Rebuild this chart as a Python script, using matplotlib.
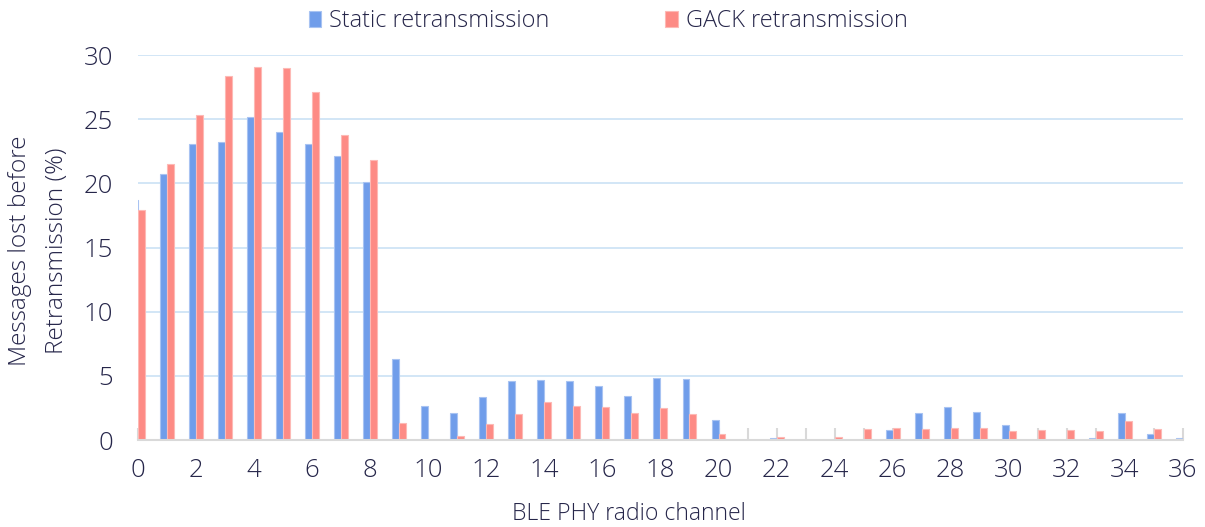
import matplotlib.pyplot as plt
import numpy as np

plt.rcParams['font.family'] = ['Open Sans', 'DejaVu Sans']
plt.rcParams['font.weight'] = 'light'

# Share of messages lost per BLE channel (%)
channels = list(range(37))
static_loss = [18.7, 20.7, 23.1, 23.2, 25.2, 24.0, 23.1, 22.1, 20.1, 6.3,
               2.65, 2.1, 3.35, 4.6, 4.7, 4.6, 4.2, 3.45, 4.85, 4.75,
               1.6, 0, 0.18, 0, 0, 0, 0.8, 2.1, 2.55, 2.15,
               1.15, 0, 0, 0.15, 2.1, 0.5, 0.15]
gack_loss = [17.9, 21.5, 25.3, 28.4, 29.1, 29.0, 27.1, 23.8, 21.8, 1.35,
             0, 0.3, 1.25, 2.0, 2.95, 2.65, 2.55, 2.1, 2.5, 2.05,
             0.45, 0, 0.22, 0, 0.25, 0.88, 0.9, 0.85, 0.95, 0.9,
             0.72, 0.78, 0.8, 0.72, 1.45, 0.88, 0.7]

text_col = '#26264a'
blue = '#709dea'
red = '#fd8b85'

fig = plt.figure(figsize=(12.05, 5.27), dpi=100)
ax = fig.add_axes([0.1145, 0.165, 0.8672, 0.7306])

x = np.array(channels)
w = 0.24
ax.bar(x - w / 2, static_loss, width=w, color=blue, edgecolor='#a8c3f2',
       linewidth=0.8, label='Static retransmission', zorder=2)
ax.bar(x + w / 2, gack_loss, width=w, color=red, edgecolor='#fdb9b5',
       linewidth=0.8, label='GACK retransmission', zorder=2)

ax.set_xlim(0, 36)
ax.set_ylim(0, 30)
ax.set_yticks(range(0, 31, 5))
ax.yaxis.grid(True, color='#cfe4f6', linewidth=1.3, zorder=0)
ax.set_axisbelow(True)

ax.set_xticks(channels)
ax.set_xticklabels([str(c) if c % 2 == 0 else '' for c in channels])
ax.tick_params(axis='x', direction='in', length=9, width=1.5,
               color='#d9d9d9', pad=13, labelsize=18.5, labelcolor=text_col)
ax.tick_params(axis='y', length=0, pad=18, labelsize=18.5, labelcolor=text_col)

for side in ['top', 'right', 'left']:
    ax.spines[side].set_visible(False)
ax.spines['bottom'].set_color('#d9d9d9')
ax.spines['bottom'].set_linewidth(1.5)

fig.text(0.032, 0.524, 'Messages lost before\nRetransmission (%)', rotation=90,
         ha='center', va='center', multialignment='center',
         fontsize=17.6, color=text_col, linespacing=1.75)
fig.text(0.522, 0.025, 'BLE PHY radio channel', ha='center', va='center',
         fontsize=16.6, color=text_col)

fig.legend(loc='upper center', bbox_to_anchor=(0.5046, 1.023), ncol=2,
           frameon=False, fontsize=16.9, handlelength=0.55, handleheight=0.65,
           handletextpad=0.34, columnspacing=4.9, labelcolor=text_col)

fig.savefig('out.png', dpi=100)
